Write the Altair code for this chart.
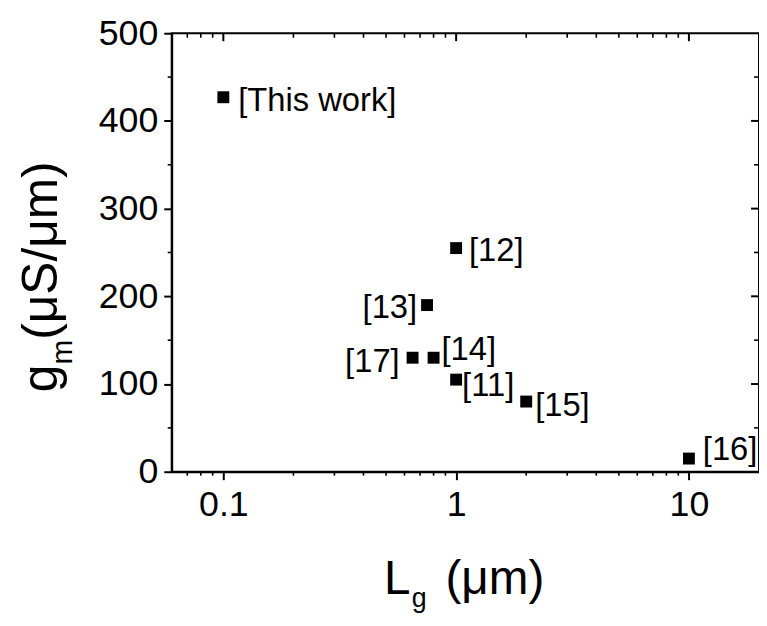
import altair as alt
import pandas as pd

# ---- data ----
Lg = [0.1, 1, 0.75, 0.8, 1, 2, 10, 0.65]
gm = [427, 255, 190, 130, 105, 80, 15, 130]
labels = ["[This work]", "[12]", "[13]", "[14]", "[11]", "[15]", "[16]", "[17]"]

x_major = [0.1, 1, 10]
x_minor = [0.07, 0.08, 0.09, 0.2, 0.3, 0.4, 0.5, 0.6, 0.7, 0.8, 0.9,
           2, 3, 4, 5, 6, 7, 8, 9]
y_major = [0, 100, 200, 300, 400, 500]
y_minor = [50, 150, 250, 350, 450]

df = pd.DataFrame({"Lg": Lg, "gm": gm, "label": labels})
FONT = "Liberation Sans"
W, H = 592, 442

xscale = alt.Scale(type="log", domain=[0.06, 20], nice=False)
yscale = alt.Scale(domain=[0, 500], nice=False)

xaxis = alt.Axis(values=x_major, format="~g", title=None, tickSize=8, tickWidth=2,
                 domainWidth=2, domainColor="black", tickColor="black",
                 labelFont=FONT, labelFontSize=36, labelColor="black",
                 labelPadding=8, grid=False, labelFlush=False, labelOverlap=False)
yaxis = alt.Axis(values=y_major, title=None, tickSize=8, tickWidth=2,
                 domainWidth=2, domainColor="black", tickColor="black",
                 labelFont=FONT, labelFontSize=36, labelColor="black",
                 labelPadding=6, grid=False, labelFlush=False, labelOverlap=False)

points = alt.Chart(df).mark_square(size=144, color="black", opacity=1).encode(
    x=alt.X("Lg:Q", scale=xscale, axis=xaxis),
    y=alt.Y("gm:Q", scale=yscale, axis=yaxis),
)

# label placement styles (pixel offsets from the markers)
label_style = {
    "[This work]": ("left", 15, 4),
    "[12]": ("left", 13, 3),
    "[13]": ("right", -10, 3),
    "[14]": ("left", 8, -8),
    "[11]": ("left", 6, 6),
    "[15]": ("left", 9, 5),
    "[16]": ("left", 14, -9),
    "[17]": ("right", -13, 4),
}
text_layers = []
for lab, (al, dx, dy) in label_style.items():
    text_layers.append(
        alt.Chart(df).transform_filter(alt.datum.label == lab)
        .mark_text(align=al, baseline="middle", dx=dx, dy=dy, fontSize=33,
                   font=FONT, color="black")
        .encode(x=alt.X("Lg:Q", scale=xscale, axis=xaxis),
                y=alt.Y("gm:Q", scale=yscale, axis=yaxis),
                text="label:N")
    )

dxmaj = pd.DataFrame({"v": x_major})
dxmin = pd.DataFrame({"v": x_minor})
dymaj = pd.DataFrame({"v": y_major})
dymin = pd.DataFrame({"v": y_minor})

def xticks(d, y0, y1, w):
    return alt.Chart(d).mark_rule(color="black", strokeWidth=w).encode(
        x=alt.X("v:Q", scale=xscale, axis=xaxis), y=alt.value(y0), y2=alt.value(y1))

def yticks(d, x0, x1, w):
    return alt.Chart(d).mark_rule(color="black", strokeWidth=w).encode(
        y=alt.Y("v:Q", scale=yscale, axis=yaxis), x=alt.value(x0), x2=alt.value(x1))

tick_layers = [
    xticks(dxmin, H, H + 4, 1.6),      # bottom minor (outward)
    xticks(dxmaj, 0, 8, 2),            # top major (inward)
    xticks(dxmin, 0, 4.5, 1.6),        # top minor (inward)
    yticks(dymin, -4, 0, 1.6),         # left minor (outward)
    yticks(dymaj.iloc[1:-1], W, W - 8, 2),  # right major (inward)
    yticks(dymin, W, W - 5, 1.6),      # right minor (inward)
]

def title_piece(txt, x, y, size, angle=0):
    return alt.Chart(pd.DataFrame({"t": [txt]})).mark_text(
        align="left", baseline="alphabetic", fontSize=size, font=FONT,
        color="black", angle=angle
    ).encode(text="t:N", x=alt.value(x), y=alt.value(y))

titles = [
    title_piece("L", 214, 565, 48),
    title_piece("g", 242, 578, 27),
    title_piece("(\u03bcm)", 276, 565, 48),
    title_piece("g", -116, 362, 50, 270),
    title_piece("m", -100, 334, 30, 270),
    title_piece("(\u03bcS/\u03bcm)", -116, 309, 50, 270),
]

chart = alt.layer(points, *tick_layers, *text_layers, *titles).properties(
    width=W, height=H,
    padding={"left": 165, "top": 23, "right": 0, "bottom": 142},
    autosize=alt.AutoSizeParams(type="none"),
).configure(background="white").configure_view(stroke="black", strokeWidth=2)

chart.save("out.html", embed_options={"renderer": "svg", "actions": False})
